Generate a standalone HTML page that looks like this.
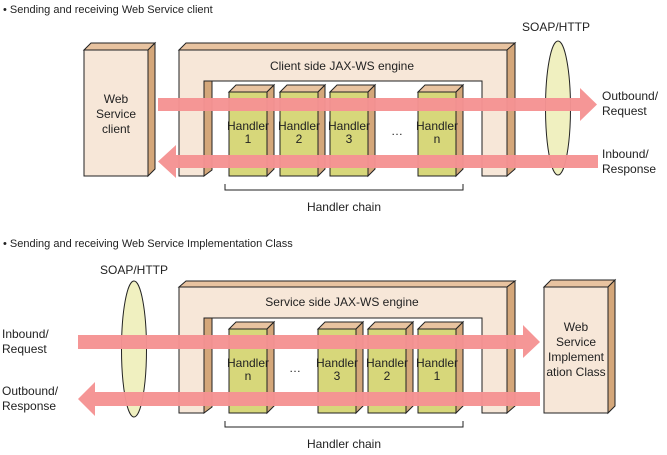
<!DOCTYPE html>
<html><head><meta charset="utf-8"><style>
html,body{margin:0;padding:0;background:#fff;}
svg{display:block;font-family:"Liberation Sans",sans-serif;}
</style></head><body>
<svg width="667" height="455" viewBox="0 0 667 455" xmlns="http://www.w3.org/2000/svg" font-size="12" fill="#222">
<g stroke="#222" stroke-width="1">
<!-- TOP: Web Service client -->
<polygon points="84,50 91,43 155,43 148,50" fill="#e8c3a0"/>
<polygon points="148,50 155,43 155,169 148,176" fill="#d4a77a"/>
<rect x="84" y="50" width="64" height="126" fill="#f7e7d8"/>
<!-- TOP engine -->
<polygon points="179,50 186,43 515,43 507,50" fill="#e8c3a0"/>
<polygon points="507,50 515,43 515,169 507,176" fill="#d4a77a"/>
<path d="M179,50 H507 V176 H482 V81 H204 V176 H179 Z" fill="#f7e7d8"/>
<polygon points="204,81 212,81 212,170 204,176" fill="#d4a77a"/>
<!-- TOP handlers -->
<g id="h1">
<polygon points="229,92 236,85 274,85 267,92" fill="#e8c3a0"/>
<polygon points="267,92 274,85 274,169 267,176" fill="#d4a77a"/>
<rect x="229" y="92" width="38" height="84" fill="#d7d77a"/>
</g>
<polygon points="280,92 287,85 325,85 318,92" fill="#e8c3a0"/>
<polygon points="318,92 325,85 325,169 318,176" fill="#d4a77a"/>
<rect x="280" y="92" width="38" height="84" fill="#d7d77a"/>
<polygon points="330,92 337,85 375,85 368,92" fill="#e8c3a0"/>
<polygon points="368,92 375,85 375,169 368,176" fill="#d4a77a"/>
<rect x="330" y="92" width="38" height="84" fill="#d7d77a"/>
<polygon points="418,92 425,85 463,85 456,92" fill="#e8c3a0"/>
<polygon points="456,92 463,85 463,169 456,176" fill="#d4a77a"/>
<rect x="418" y="92" width="38" height="84" fill="#d7d77a"/>
<ellipse cx="558" cy="108" rx="12.5" ry="67" fill="#f0f0c0"/>
<!-- TOP bracket -->
<path d="M225,184 V190 H463 V184" fill="none"/>

<!-- BOTTOM engine -->
<polygon points="179,287 186,281 515,281 507,287" fill="#e8c3a0"/>
<polygon points="507,287 515,281 515,406 507,413" fill="#d4a77a"/>
<path d="M179,287 H507 V413 H482 V318 H204 V413 H179 Z" fill="#f7e7d8"/>
<polygon points="204,318 212,318 212,407 204,413" fill="#d4a77a"/>
<polygon points="229,329 236,322 274,322 267,329" fill="#e8c3a0"/>
<polygon points="267,329 274,322 274,406 267,413" fill="#d4a77a"/>
<rect x="229" y="329" width="38" height="84" fill="#d7d77a"/>
<polygon points="318,329 325,322 363,322 356,329" fill="#e8c3a0"/>
<polygon points="356,329 363,322 363,406 356,413" fill="#d4a77a"/>
<rect x="318" y="329" width="38" height="84" fill="#d7d77a"/>
<polygon points="368,329 375,322 413,322 406,329" fill="#e8c3a0"/>
<polygon points="406,329 413,322 413,406 406,413" fill="#d4a77a"/>
<rect x="368" y="329" width="38" height="84" fill="#d7d77a"/>
<polygon points="418,329 425,322 463,322 456,329" fill="#e8c3a0"/>
<polygon points="456,329 463,322 463,406 456,413" fill="#d4a77a"/>
<rect x="418" y="329" width="38" height="84" fill="#d7d77a"/>
<!-- Impl box -->
<polygon points="544,287 551,280 615,280 608,287" fill="#e8c3a0"/>
<polygon points="608,287 615,280 615,406 608,413" fill="#d4a77a"/>
<rect x="544" y="287" width="64" height="126" fill="#f7e7d8"/>
<ellipse cx="134" cy="349" rx="12.5" ry="68" fill="#f0f0c0"/>
<path d="M225,421 V427 H463 V421" fill="none"/>
</g>
<!-- arrows -->
<g fill="#f59393" opacity="0.97">
<polygon points="158,98 580,98 580,88 597,104.5 580,121 580,111 158,111"/>
<polygon points="598,155 176,155 176,145 158,161.5 176,178 176,168 598,168"/>
<polygon points="78,335 523,335 523,325 540,342 523,358 523,349 78,349"/>
<polygon points="540,392 95,392 95,382 78,399 95,416 95,406 540,406"/>
</g>
<!-- text -->
<text x="3" y="13" font-size="11">• Sending and receiving Web Service client</text>
<text x="3" y="247" font-size="11">• Sending and receiving Web Service Implementation Class</text>
<g text-anchor="middle">
<text x="116" y="103">Web</text><text x="116" y="118">Service</text><text x="116" y="133">client</text>
<text x="342" y="70">Client side JAX-WS engine</text>
<text x="248" y="130">Handler</text><text x="248" y="143">1</text>
<text x="299" y="130">Handler</text><text x="299" y="143">2</text>
<text x="349" y="130">Handler</text><text x="349" y="143">3</text>
<text x="397" y="135">…</text>
<text x="437" y="130">Handler</text><text x="437" y="143">n</text>
<text x="344" y="211">Handler chain</text>
<text x="556" y="31">SOAP/HTTP</text>
<text x="342" y="306">Service side JAX-WS engine</text>
<text x="248" y="367">Handler</text><text x="248" y="380">n</text>
<text x="295" y="372">…</text>
<text x="337" y="367">Handler</text><text x="337" y="380">3</text>
<text x="387" y="367">Handler</text><text x="387" y="380">2</text>
<text x="437" y="367">Handler</text><text x="437" y="380">1</text>
<text x="344" y="448">Handler chain</text>
<text x="134" y="274">SOAP/HTTP</text>
<text x="576" y="331">Web</text><text x="576" y="346">Service</text><text x="576" y="361">Implement</text><text x="576" y="376">ation Class</text>
</g>
<text x="602" y="100">Outbound/</text><text x="602" y="115">Request</text>
<text x="602" y="158">Inbound/</text><text x="602" y="173">Response</text>
<text x="2" y="338">Inbound/</text><text x="2" y="353">Request</text>
<text x="2" y="395">Outbound/</text><text x="2" y="410">Response</text>
</svg>
</body></html>
